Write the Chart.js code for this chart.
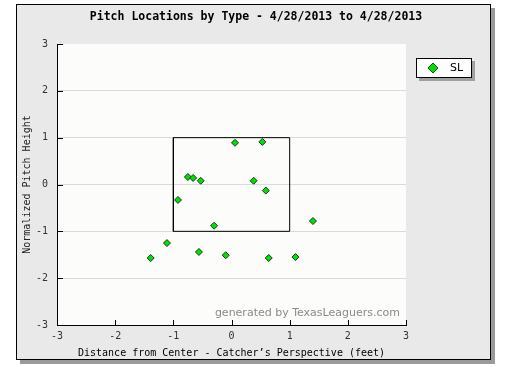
<!DOCTYPE html>
<html>
<head>
<meta charset="utf-8">
<script src="https://cdn.jsdelivr.net/npm/chart.js@4.4.1/dist/chart.umd.min.js"></script>
<style>
    html, body { margin: 0; padding: 0; background: #ffffff; }
    #wrap { width: 509px; height: 367px; }
</style>
</head>
<body>
<div id="wrap"><canvas id="pitchChart" width="509" height="367"></canvas></div>
<script>
// Pitch data (feet from center, normalized height)
const pitchType = 'SL';
const pitchX = [0.06, 0.53, -0.75, -0.66, -0.53, 0.38, 0.59, -0.92, -0.30, 1.40, -1.11, -1.39, -0.56, -0.10, 0.64, 1.10];
const pitchY = [0.89, 0.91, 0.16, 0.14, 0.08, 0.08, -0.13, -0.33, -0.88, -0.78, -1.25, -1.57, -1.44, -1.51, -1.57, -1.55];

// Strike zone corners
const zoneX = [-1, 1, 1, -1, -1];
const zoneY = [-1, -1, 1, 1, -1];

const tickValues = [-3, -2, -1, 0, 1, 2, 3];

const chartTitle = 'Pitch Locations by Type - 4/28/2013 to 4/28/2013';
const xTitle = 'Distance from Center - Catcher\u2019s Perspective (feet)';
const yTitle = 'Normalized Pitch Height';
const watermark = 'generated by TexasLeaguers.com';

const MONO = '"DejaVu Sans Mono", "Liberation Mono", monospace';

// Фон, рамка с тенью, засечки внутрь, заголовки, подпись и легенда
const framePlugin = {
    id: 'frame',
    beforeDraw(chart) {
        const c = chart.ctx;
        const a = chart.chartArea;
        c.save();
        // тень
        c.fillStyle = '#9a9a9a';
        c.fillRect(20, 8, 475, 356);
        // серый фон
        c.fillStyle = '#e9e9e9';
        c.fillRect(16, 4, 475, 356);
        c.strokeStyle = '#000';
        c.lineWidth = 1;
        c.strokeRect(16.5, 4.5, 474, 355);
        // белая область графика
        c.fillStyle = '#fcfdfb';
        c.fillRect(a.left, a.top, a.right - a.left, a.bottom - a.top);

        // заголовок
        c.fillStyle = '#000';
        c.font = 'bold 11.5px ' + MONO;
        c.textAlign = 'center';
        c.textBaseline = 'middle';
        c.fillText(chartTitle, 256, 17);

        // подпись оси Y
        c.translate(27, (a.top + a.bottom) / 2);
        c.rotate(-Math.PI / 2);
        c.fillStyle = '#222';
        c.font = '10px ' + MONO;
        c.fillText(yTitle, 0, 0);
        c.restore();
    },
    afterDatasetsDraw(chart) {
        const c = chart.ctx;
        const a = chart.chartArea;
        const xs = chart.scales.x;
        const ys = chart.scales.y;
        c.save();
        c.strokeStyle = '#000';
        c.lineWidth = 1;
        c.beginPath();
        tickValues.forEach((v) => {
            const px = Math.round(xs.getPixelForValue(v)) + 0.5;
            c.moveTo(px, a.bottom);
            c.lineTo(px, a.bottom - 5);
            const py = Math.round(ys.getPixelForValue(v)) + 0.5;
            c.moveTo(a.left, py);
            c.lineTo(a.left + 6, py);
        });
        c.stroke();

        // watermark
        c.fillStyle = '#8a8a8a';
        c.font = '11px "DejaVu Sans", sans-serif';
        c.textAlign = 'right';
        c.textBaseline = 'middle';
        c.fillText(watermark, a.right - 6, a.bottom - 12);

        // legend box
        const lx = 416, ly = 58, lw = 56, lh = 20;
        c.fillStyle = '#a0a0a0';
        c.fillRect(lx + 3, ly + 3, lw, lh);
        c.fillStyle = '#ffffff';
        c.fillRect(lx, ly, lw, lh);
        c.strokeStyle = '#000';
        c.strokeRect(lx + 0.5, ly + 0.5, lw - 1, lh - 1);
        const ds = chart.data.datasets[0];
        c.beginPath();
        c.moveTo(433, ly + 5);
        c.lineTo(438, ly + 10);
        c.lineTo(433, ly + 15);
        c.lineTo(428, ly + 10);
        c.closePath();
        c.fillStyle = ds.backgroundColor;
        c.fill();
        c.strokeStyle = '#006600';
        c.stroke();
        c.fillStyle = '#000';
        c.font = '11px "DejaVu Sans", sans-serif';
        c.textAlign = 'left';
        c.fillText(ds.label, 450, ly + 10.5);
        c.restore();
    }
};

const points = pitchX.map((x, i) => ({x: x, y: pitchY[i]}));
const zone = zoneX.map((x, i) => ({x: x, y: zoneY[i]}));

new Chart(document.getElementById('pitchChart'), {
    type: 'scatter',
    data: {
        datasets: [
            {
                label: pitchType,
                data: points,
                pointStyle: 'rectRot',
                pointRadius: 3.5,
                backgroundColor: '#00e000',
                borderColor: '#1a3a1a',
                borderWidth: 1,
                order: 1
            },
            {
                label: 'zone',
                data: zone,
                showLine: true,
                pointRadius: 0,
                borderColor: '#000',
                borderWidth: 1,
                order: 2
            }
        ]
    },
    options: {
        responsive: false,
        animation: false,
        layout: {
            padding: {left: 27, right: 103, top: 44, bottom: 8}
        },
        plugins: {
            legend: {display: false},
            tooltip: {enabled: false},
            title: {display: false}
        },
        scales: {
            x: {
                type: 'linear',
                min: -3,
                max: 3,
                grid: {display: false, drawTicks: false},
                border: {display: true, color: '#000', width: 1},
                ticks: {
                    stepSize: 1,
                    padding: 5,
                    color: '#333',
                    font: {family: MONO, size: 10}
                },
                title: {
                    display: true,
                    text: xTitle,
                    color: '#000',
                    font: {family: MONO, size: 10},
                    padding: {top: 0, bottom: 0}
                }
            },
            y: {
                type: 'linear',
                min: -3,
                max: 3,
                grid: {
                    drawTicks: false,
                    color: (ctx) => (ctx.tick && (ctx.tick.value === 3 || ctx.tick.value === -3)) ? 'rgba(0,0,0,0)' : '#dadada'
                },
                border: {display: true, color: '#000', width: 1},
                ticks: {
                    stepSize: 1,
                    padding: 9,
                    color: '#333',
                    font: {family: MONO, size: 10}
                },
                title: {display: false}
            }
        }
    },
    plugins: [framePlugin]
});
</script>
</body>
</html>
